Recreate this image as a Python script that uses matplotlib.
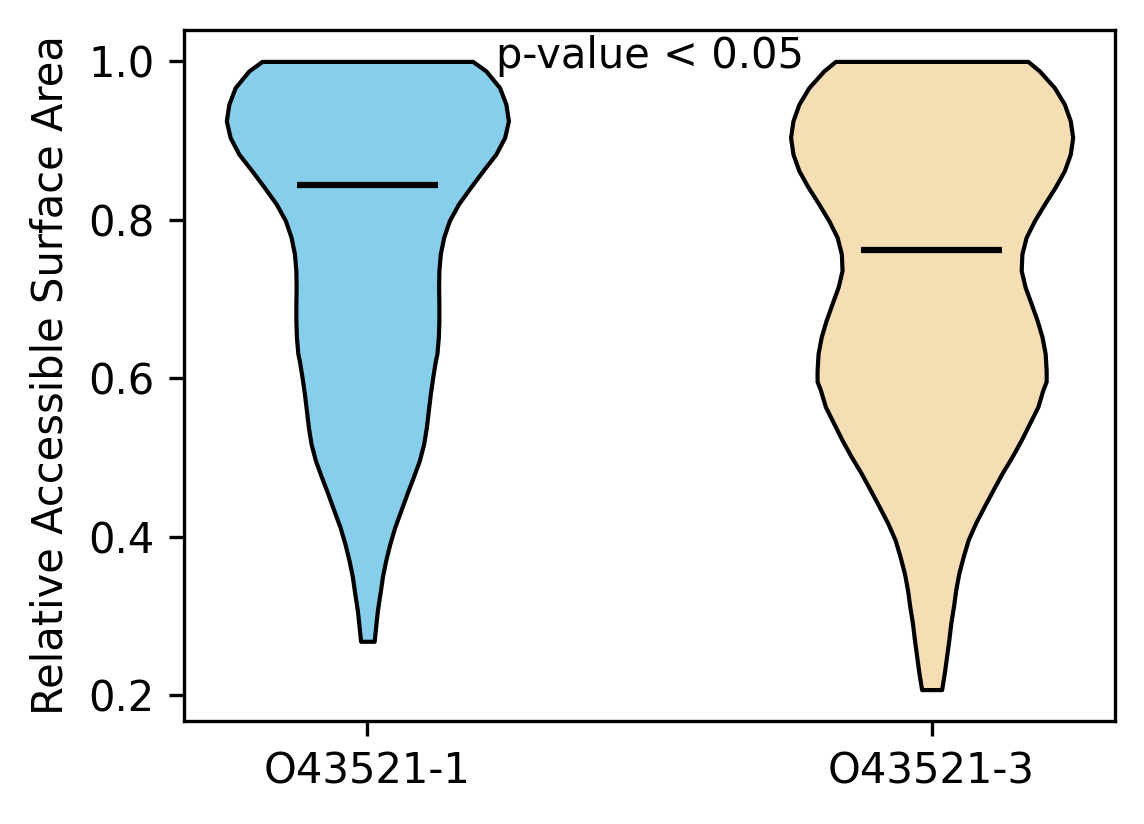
import numpy as np
import matplotlib
matplotlib.use("Agg")
import matplotlib.pyplot as plt

labels = ["O43521-1", "O43521-3"]
colors = ["skyblue", "wheat"]
means = [0.844, 0.762]

# violin outlines: y values and relative density (width)
coords_1 = [0.268, 0.287, 0.307, 0.329, 0.350, 0.370, 0.391, 0.412, 0.433, 0.454,
            0.476, 0.496, 0.517, 0.538, 0.559, 0.580, 0.601, 0.622, 0.631, 0.652,
            0.673, 0.694, 0.715, 0.736, 0.757, 0.778, 0.799, 0.820, 0.841, 0.862,
            0.883, 0.904, 0.925, 0.946, 0.967, 0.988, 1.0]
dens_1 = [0.048, 0.059, 0.071, 0.090, 0.107, 0.130, 0.159, 0.194, 0.237, 0.280,
          0.327, 0.368, 0.399, 0.418, 0.432, 0.446, 0.463, 0.482, 0.493, 0.503,
          0.507, 0.507, 0.505, 0.507, 0.517, 0.541, 0.581, 0.646, 0.731, 0.819,
          0.911, 0.973, 1.0, 0.982, 0.937, 0.840, 0.747]

coords_2 = [0.207, 0.228, 0.249, 0.270, 0.291, 0.312, 0.333, 0.354, 0.375, 0.396,
            0.417, 0.438, 0.459, 0.480, 0.501, 0.522, 0.543, 0.564, 0.585, 0.596,
            0.610, 0.631, 0.652, 0.673, 0.694, 0.715, 0.736, 0.757, 0.778, 0.799,
            0.820, 0.841, 0.862, 0.883, 0.904, 0.925, 0.946, 0.967, 0.988, 1.0]
dens_2 = [0.071, 0.090, 0.106, 0.122, 0.136, 0.155, 0.171, 0.193, 0.224, 0.259,
          0.311, 0.372, 0.435, 0.499, 0.570, 0.635, 0.694, 0.753, 0.788, 0.812,
          0.812, 0.805, 0.783, 0.748, 0.706, 0.663, 0.635, 0.640, 0.670, 0.729,
          0.800, 0.875, 0.941, 0.983, 1.0, 0.983, 0.941, 0.870, 0.764, 0.682]

coords = [coords_1, coords_2]
dens = [dens_1, dens_2]

vpstats = []
for c, d, m in zip(coords, dens, means):
    c = np.asarray(c)
    vpstats.append(dict(coords=c, vals=np.asarray(d), mean=m,
                        median=m, min=c.min(), max=c.max()))

fig = plt.figure(figsize=(1144 / 300, 824 / 300), dpi=300)
ax = fig.add_axes([184 / 1144, 1 - 721 / 824, (1115 - 184) / 1144, (721 - 30) / 824])

parts = ax.violin(vpstats, positions=[1, 2], widths=0.5,
                  showmeans=True, showextrema=False)
for body, col in zip(parts["bodies"], colors):
    body.set_facecolor(col)
    body.set_edgecolor("black")
    body.set_linewidth(1.0)
    body.set_alpha(1)
parts["cmeans"].set_color("black")
parts["cmeans"].set_linewidth(1.5)

ax.set_xticks([1, 2])
ax.set_xticklabels(labels)
ax.set_ylabel("Relative Accessible Surface Area")
ax.text(1.5, 0.98, "p-value < 0.05", ha="center", va="bottom")

fig.savefig("out.png", dpi=300)
